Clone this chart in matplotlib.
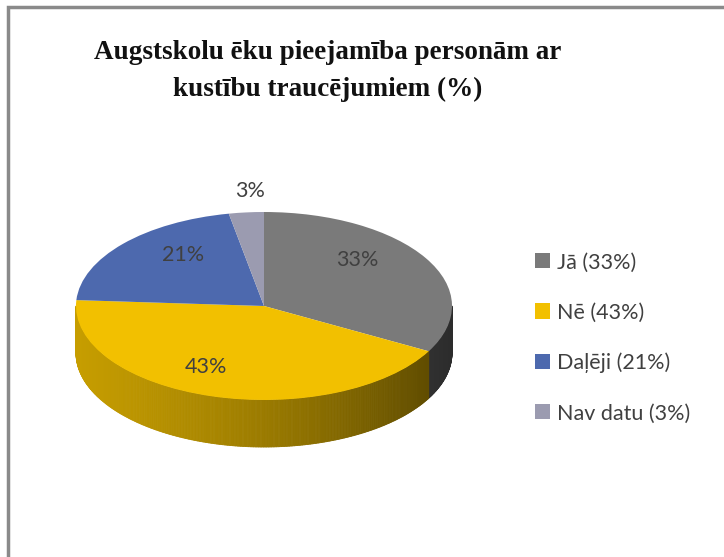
import numpy as np
import matplotlib.pyplot as plt
from matplotlib.patches import Rectangle
from matplotlib.collections import PolyCollection

labels = ['Jā', 'Nē', 'Daļēji', 'Nav datu']
values = [33, 43, 21, 3]
colors = ['#7a7a7a', '#f2c000', '#4d69ae', '#9b9bb0']
title = 'Augstskolu ēku pieejamība personām ar\nkustību traucējumiem (%)'

# where the % labels sit: radius and angle shift from the slice middle
label_r = [0.70, 0.72, 0.69, 1.23]
label_shift = [14, -9, -10, -2]

W, H = 724, 557
fig = plt.figure(figsize=(W / 100, H / 100), dpi=100)

# grey frame, only left and top edges are inside the picture
fig.patches.append(Rectangle((8 / W, -0.1), 1.2, (H - 7) / H + 0.1,
                             transform=fig.transFigure, fill=False,
                             edgecolor='#8a8a8a', lw=2.5))

fig.text(0.453, 1 - 71 / H, title, ha='center', va='center', fontsize=19.5,
         fontweight='bold', family='Liberation Serif', color='#111111',
         linespacing=1.65)

# pie axes: x unit = 188 px, y unit = 94 px -> flattened ellipse
ax = fig.add_axes([50 / W, 81 / H, 430 / W, 300 / H])
wedges, texts, autotexts = ax.pie(
    values, colors=colors, startangle=90, counterclock=False,
    autopct=lambda p: f'{p:.0f}%', pctdistance=0.7,
    wedgeprops=dict(linewidth=0),
    textprops=dict(fontsize=15.5, color='#404040', family='Lato'))
ax.set_aspect('auto')
ax.set_xlim(-214 / 188, 216 / 188)
ax.set_ylim(-170 / 94, 130 / 94)
ax.axis('off')

# side of the 3d pie, drawn as thin shaded strips
depth = 0.5
frac = np.array(values) / sum(values)
edges = 90 - 360 * np.concatenate([[0], np.cumsum(frac)])
polys, fcols = [], []
for i in range(len(values)):
    lo, hi = max(edges[i + 1], -180), min(edges[i], 0)
    if lo >= hi:
        continue
    ts = np.radians(np.linspace(lo, hi, int((hi - lo) * 2) + 2))
    base = np.array(plt.matplotlib.colors.to_rgb(colors[i]))
    for t0, t1 in zip(ts[:-1], ts[1:]):
        xm = np.cos((t0 + t1) / 2)
        f = 0.64 - 0.23 * xm - 0.05 * xm ** 2
        polys.append([(np.cos(t0), np.sin(t0)), (np.cos(t1), np.sin(t1)),
                      (np.cos(t1), np.sin(t1) - depth),
                      (np.cos(t0), np.sin(t0) - depth)])
        fcols.append(base * f)
side = PolyCollection(polys, facecolors=fcols, edgecolors=fcols, linewidths=0.6, zorder=0.5)
ax.add_collection(side)

for i, t in enumerate(autotexts):
    mid = np.radians((edges[i] + edges[i + 1]) / 2 + label_shift[i])
    t.set_position((label_r[i] * np.cos(mid), label_r[i] * np.sin(mid)))

fig.legend(wedges, [f'{l} ({v}%)' for l, v in zip(labels, values)],
           loc='upper left', bbox_to_anchor=(516 / W, 1 - 233 / H),
           frameon=False, labelspacing=1.4, handlelength=0.7,
           handleheight=0.7, handletextpad=0.3,
           prop=dict(family='Lato', size=15.5), labelcolor='#404040')

fig.savefig('out.png', dpi=100)
